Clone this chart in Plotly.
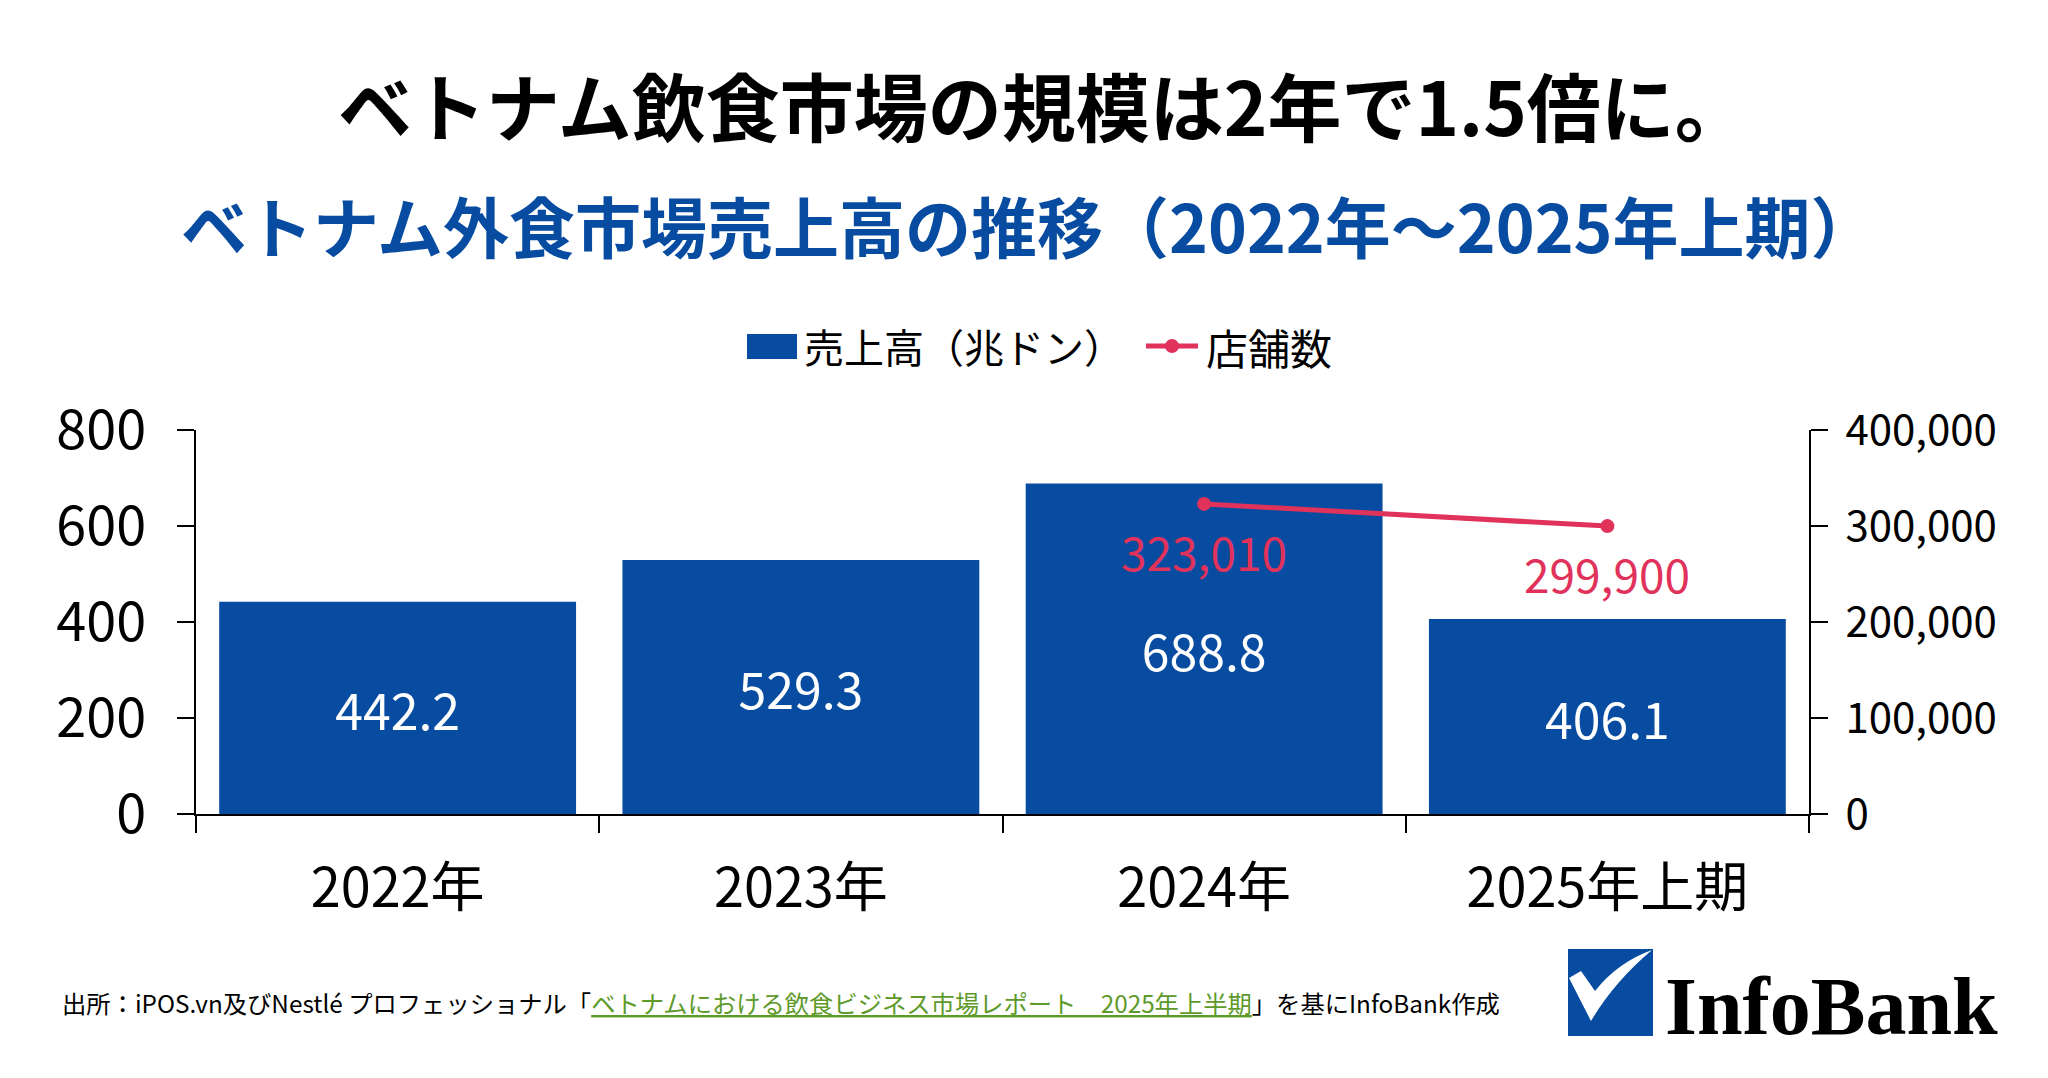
import plotly.graph_objects as go

# ---- data ----
categories = ["2022年", "2023年", "2024年", "2025年上期"]
sales = [442.2, 529.3, 688.8, 406.1]          # 売上高（兆ドン）
store_cats = ["2024年", "2025年上期"]
stores = [323010, 299900]                     # 店舗数

left_ticks = [0, 200, 400, 600, 800]
right_ticks = [0, 100000, 200000, 300000, 400000]

sales_name = "売上高（兆ドン）"
stores_name = "店舗数"
title_text = "ベトナム飲食市場の規模は2年で1.5倍に。"
subtitle_text = "ベトナム外食市場売上高の推移（2022年～2025年上期）"
source_pre = "出所：iPOS.vn及びNestlé プロフェッショナル「"
source_link = "ベトナムにおける飲食ビジネス市場レポート　2025年上半期"
source_post = "」を基にInfoBank作成"

BLUE = "#084CA1"
RED = "#E0325A"
FONT = "Noto Sans CJK JP"

W, H = 2048, 1078
L, R, T, B = 196, 239, 430, 264
PW = W - L - R
PH = H - T - B


def px(x):
    return (x - L) / PW


def py(y):
    return (H - B - y) / PH


fig = go.Figure()

fig.add_trace(go.Bar(
    x=categories, y=sales, name=sales_name, showlegend=False,
    marker=dict(color=BLUE, line=dict(width=0)),
    text=[f"{v:.1f}" for v in sales],
    textposition="inside", insidetextanchor="middle",
    textfont=dict(color="white", size=50, family=FONT),
    hoverinfo="x+y",
))

fig.add_trace(go.Scatter(
    x=store_cats, y=stores, name=stores_name, yaxis="y2", showlegend=False,
    mode="lines+markers",
    line=dict(color=RED, width=5),
    marker=dict(color=RED, size=14),
))

annotations = [
    dict(text=title_text, x=px(1043), y=py(103), xref="paper", yref="paper",
         showarrow=False, xanchor="center", yanchor="middle",
         font=dict(size=74, color="black", family=FONT, weight="bold")),
    dict(text=subtitle_text, x=px(1029), y=py(224), xref="paper", yref="paper",
         showarrow=False, xanchor="center", yanchor="middle",
         font=dict(size=66, color=BLUE, family=FONT, weight="bold")),
    dict(text=source_pre + "<span style='color:#5E9A2A'><u>" + source_link + "</u></span>" + source_post,
         x=px(60), y=py(1002), xref="paper", yref="paper",
         showarrow=False, xanchor="left", yanchor="middle",
         font=dict(size=24.3, color="black", family=FONT)),
    dict(text="<b>InfoBank</b>", x=px(1831), y=py(1006), xref="paper", yref="paper",
         showarrow=False, xanchor="center", yanchor="middle",
         font=dict(size=82, color="black", family="Liberation Serif")),
    # legend labels
    dict(text=sales_name, x=px(802), y=py(346), xref="paper", yref="paper",
         showarrow=False, xanchor="left", yanchor="middle",
         font=dict(size=40, color="black", family=FONT)),
    dict(text=stores_name, x=px(1204), y=py(346), xref="paper", yref="paper",
         showarrow=False, xanchor="left", yanchor="middle",
         font=dict(size=42, color="black", family=FONT)),
]

for c, v in zip(store_cats, stores):
    annotations.append(dict(
        text=f"{v:,}", x=c, y=v, xref="x", yref="y2", yshift=-47,
        showarrow=False, xanchor="center", yanchor="middle",
        font=dict(size=46, color=RED, family=FONT)))

# logo: blue square with white check
check = (f"M {px(1569)},{py(978)} L {px(1581)},{py(971)} L {px(1595)},{py(991)} "
         f"Q {px(1618)},{py(962)} {px(1652)},{py(950)} "
         f"Q {px(1614)},{py(982)} {px(1591)},{py(1021)} Z")
shapes = [
    dict(type="rect", xref="paper", yref="paper",
         x0=px(1568), x1=px(1653), y0=py(949), y1=py(1036),
         fillcolor=BLUE, line=dict(width=0), layer="above"),
    dict(type="path", xref="paper", yref="paper", path=check,
         fillcolor="white", line=dict(width=0), layer="above"),
    # legend symbols
    dict(type="rect", xref="paper", yref="paper",
         x0=px(747), x1=px(797), y0=py(334), y1=py(359),
         fillcolor=BLUE, line=dict(width=0)),
    dict(type="line", xref="paper", yref="paper",
         x0=px(1146), x1=px(1198), y0=py(346), y1=py(346),
         line=dict(color=RED, width=5)),
    dict(type="circle", xref="paper", yref="paper",
         x0=px(1165), x1=px(1179), y0=py(339), y1=py(353),
         fillcolor=RED, line=dict(width=0)),
]

fig.update_layout(
    width=W, height=H,
    margin=dict(l=L, r=R, t=T, b=B),
    paper_bgcolor="white", plot_bgcolor="white",
    font=dict(family=FONT, color="black"),
    bargap=0.115,
    showlegend=False,
    annotations=annotations,
    shapes=shapes,
    xaxis=dict(
        showline=True, linecolor="black", linewidth=2,
        ticks="outside", tickson="boundaries", ticklen=17, tickwidth=2, tickcolor="black",
        tickfont=dict(size=54, family=FONT), ticklabelstandoff=26,
        showgrid=False,
    ),
    yaxis=dict(
        range=[0, 800], tickvals=left_ticks,
        showline=True, linecolor="black", linewidth=2,
        ticks="outside", ticklen=17, tickwidth=2, tickcolor="black",
        tickfont=dict(size=54, family=FONT), ticklabelstandoff=20,
        showgrid=False, zeroline=False,
    ),
    yaxis2=dict(
        range=[0, 400000], tickvals=right_ticks, tickformat=",",
        overlaying="y", side="right",
        showline=True, linecolor="black", linewidth=2,
        ticks="outside", ticklen=17, tickwidth=2, tickcolor="black",
        tickfont=dict(size=42, family=FONT), ticklabelstandoff=9,
        showgrid=False, zeroline=False,
    ),
)

fig.write_html("out.html", config={"displayModeBar": False},
               post_script="document.body.style.margin='0';")
